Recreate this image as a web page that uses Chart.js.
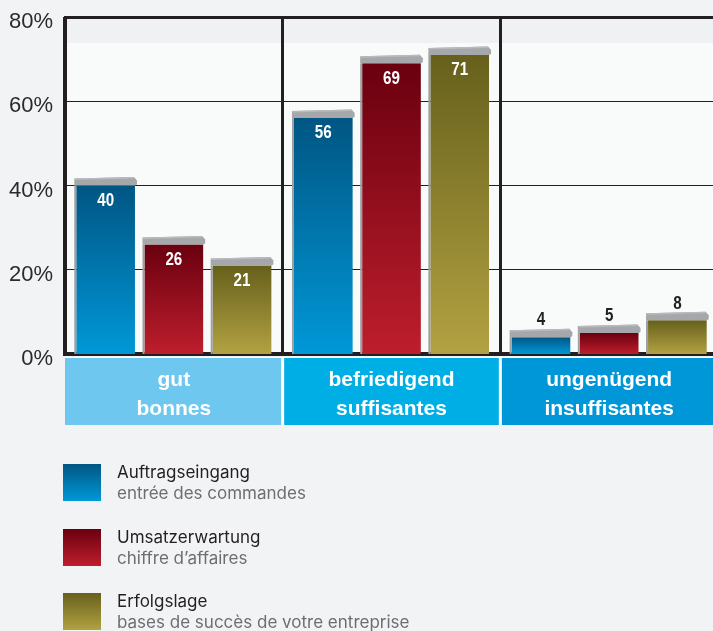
<!DOCTYPE html>
<html>
<head>
<meta charset="utf-8">
<script src="https://cdn.jsdelivr.net/npm/chart.js@4.4.1/dist/chart.umd.min.js"></script>
<style>
  html, body { margin:0; padding:0; background:#f2f3f5; width:713px; height:631px; overflow:hidden; }
  #wrap { position:absolute; left:0; top:0; width:720px; height:430px; }
  #legend { position:absolute; left:0; top:0; width:713px; height:631px; pointer-events:none; }
  .sw { position:absolute; left:63px; width:38px; height:37px; }
  .t1 { position:absolute; left:117px; font-family:Inter, "Open Sans", "Liberation Sans", sans-serif; font-size:17px; color:#231f20; white-space:nowrap; line-height:20px; }
  .t2 { position:absolute; left:117px; font-family:Inter, "Open Sans", "Liberation Sans", sans-serif; font-size:17px; color:#6d6e71; white-space:nowrap; line-height:20px; }
</style>
</head>
<body>
<div id="wrap"><canvas id="c" width="720" height="430"></canvas></div>
<div id="legend"></div>
<script>
// ---- data ----
const categories = [['gut', 'bonnes'], ['befriedigend', 'suffisantes'], ['ungenügend', 'insuffisantes']];
const seriesNames = ['Auftragseingang', 'Umsatzerwartung', 'Erfolgslage'];
const seriesNamesFr = ['entrée des commandes', 'chiffre d’affaires', 'bases de succès de votre entreprise'];
const auftragseingang = [40, 56, 4];
const umsatzerwartung = [26, 69, 5];
const erfolgslage = [21, 71, 8];
const yTicks = [0, 20, 40, 60, 80];

// ---- styles ----
const topColors = ['#005683', '#6a000f', '#66601c'];
const bottomColors = ['#0098d8', '#be1e2d', '#b3a242'];
const boxColors = ['#6dc7ef', '#00aee6', '#0097d9'];
const ink = '#231f20';

function gradFor(i) {
  return function (ctx) {
    const chart = ctx.chart;
    if (!chart.chartArea || ctx.raw === undefined) return bottomColors[i];
    const ys = chart.scales.y;
    const yTop = ys.getPixelForValue(ctx.raw);
    const yBot = ys.getPixelForValue(0);
    const g = chart.ctx.createLinearGradient(0, yTop, 0, yBot);
    g.addColorStop(0, topColors[i]);
    g.addColorStop(1, bottomColors[i]);
    return g;
  };
}

const bgPlugin = {
  id: 'bg',
  beforeDraw(chart) {
    const { ctx, chartArea: a, scales: { x } } = chart;
    ctx.save();
    ctx.fillStyle = '#f9fafa';
    ctx.fillRect(a.left, a.top, a.right - a.left, a.bottom - a.top);
    ctx.fillStyle = '#f0f1f3';
    ctx.fillRect(a.left, a.top, a.right - a.left, 26);
    // category boxes
    const step = x.getPixelForValue(1) - x.getPixelForValue(0);
    ctx.fillStyle = '#ffffff';
    ctx.fillRect(a.left, a.bottom + 3, a.right - a.left, 68);
    categories.forEach((c, i) => {
      const cx = x.getPixelForValue(i);
      ctx.fillStyle = boxColors[i];
      ctx.fillRect(cx - step / 2 + (i ? 1.5 : 0), a.bottom + 4, step - (i ? 1.5 : 0) - 1.5, 67);
    });
    ctx.restore();
  }
};

const barDecor = {
  id: 'barDecor',
  afterDatasetsDraw(chart) {
    const ctx = chart.ctx;
    ctx.save();
    chart.data.datasets.forEach((ds, di) => {
      const meta = chart.getDatasetMeta(di);
      meta.data.forEach((el, j) => {
        const left = el.x - el.width / 2, right = el.x + el.width / 2;
        const y = el.y, base = el.base;
        // side
        ctx.fillStyle = '#9d9fa2';
        ctx.fillRect(left - 2, y, 2, base - y);
        // top face
        ctx.fillStyle = '#a5a7aa';
        ctx.beginPath();
        ctx.moveTo(left - 2, y);
        ctx.lineTo(left - 2, y - 7);
        ctx.lineTo(right - 1, y - 8.5);
        ctx.lineTo(right + 2, y - 5);
        ctx.lineTo(right + 2, y - 1);
        ctx.lineTo(right, y);
        ctx.closePath();
        ctx.fill();
        ctx.fillStyle = '#b8babd';
        ctx.beginPath();
        ctx.moveTo(left - 1, y - 7);
        ctx.lineTo(right - 1, y - 8.5);
        ctx.lineTo(right - 1, y - 7);
        ctx.lineTo(left - 1, y - 5.5);
        ctx.closePath();
        ctx.fill();
        // label
        const v = ds.data[j];
        ctx.save();
        ctx.font = 'bold 19px "Liberation Sans", Arial, sans-serif';
        ctx.textAlign = 'center';
        ctx.textBaseline = 'middle';
        const ly = v >= 15 ? y + 15 : y - 17;
        ctx.translate(el.x, ly);
        ctx.scale(0.8, 1);
        ctx.fillStyle = v >= 15 ? '#ffffff' : ink;
        ctx.fillText(String(v), 0, 0);
        ctx.restore();
      });
    });
    ctx.restore();
  }
};

new Chart(document.getElementById('c'), {
  type: 'bar',
  data: {
    labels: categories,
    datasets: [
      { label: seriesNames[0], data: auftragseingang, backgroundColor: gradFor(0) },
      { label: seriesNames[1], data: umsatzerwartung, backgroundColor: gradFor(1) },
      { label: seriesNames[2], data: erfolgslage, backgroundColor: gradFor(2) }
    ]
  },
  options: {
    responsive: false,
    animation: false,
    events: [],
    layout: { padding: { top: 17, right: 2, left: 0, bottom: 0 } },
    datasets: { bar: { categoryPercentage: 0.94, barPercentage: 0.86, borderWidth: 0 } },
    plugins: { legend: { display: false }, tooltip: { enabled: false } },
    scales: {
      x: {
        z: 1,
        offset: true,
        grid: { offset: true, color: ink, lineWidth: 3, drawTicks: false },
        border: { color: ink, width: 4 },
        ticks: {
          color: '#ffffff',
          padding: 12,
          maxRotation: 0,
          autoSkip: false,
          font: { family: '"Liberation Sans", Arial, sans-serif', size: 21, weight: 'bold', lineHeight: 1.38 }
        },
        afterFit(s) { s.height = 76; s.paddingLeft = 0; s.paddingRight = 0; }
      },
      y: {
        min: 0, max: 80,
        afterBuildTicks(s) { s.ticks = yTicks.map(v => ({ value: v })); },
        grid: {
          color: ink,
          drawTicks: false,
          lineWidth: (c) => c.tick && c.tick.value === 0 ? 0 : (c.tick && c.tick.value === 80 ? 3 : 1)
        },
        border: { color: ink, width: 3 },
        ticks: {
          color: '#2b2b2b',
          padding: 12,
          labelOffset: 5,
          font: { family: '"Liberation Sans", Arial, sans-serif', size: 22 },
          callback: (v) => v + '%'
        },
        afterFit(s) { s.width = 65; s.paddingTop = 0; s.paddingBottom = 0; }
      }
    }
  },
  plugins: [bgPlugin, barDecor]
});

// ---- legend ----
const leg = document.getElementById('legend');
seriesNames.forEach((n, i) => {
  const top = 464 + i * 64.5;
  const sw = document.createElement('div');
  sw.className = 'sw';
  sw.style.top = top + 'px';
  sw.style.background = 'linear-gradient(' + topColors[i] + ',' + bottomColors[i] + ')';
  leg.appendChild(sw);
  const t1 = document.createElement('div');
  t1.className = 't1';
  t1.style.top = (top - 2) + 'px';
  t1.textContent = n;
  leg.appendChild(t1);
  const t2 = document.createElement('div');
  t2.className = 't2';
  t2.style.top = (top + 19) + 'px';
  t2.textContent = seriesNamesFr[i];
  leg.appendChild(t2);
});
</script>
</body>
</html>
